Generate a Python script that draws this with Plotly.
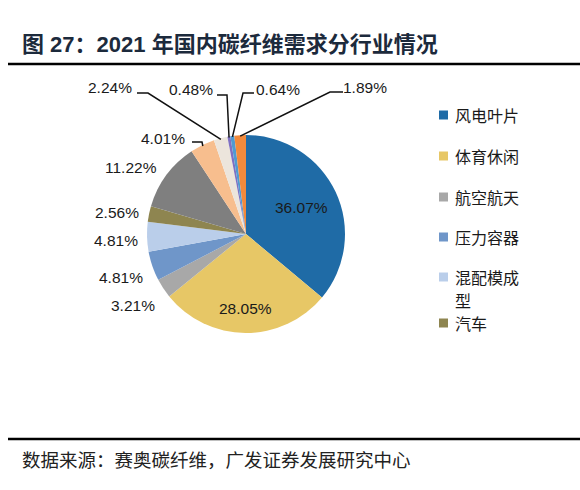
import math
import plotly.graph_objects as go

# ---------------- data ----------------
categories = ["风电叶片", "体育休闲", "航空航天", "压力容器", "混配模成型", "汽车",
              "碳碳复材", "电子电气", "建筑", "船舶", "电缆芯", "其他"]
shares = [36.07, 28.05, 3.21, 4.81, 4.81, 2.56, 11.22, 4.01, 2.24, 0.48, 0.64, 1.89]
legend_labels = [["风电叶片"], ["体育休闲"], ["航空航天"], ["压力容器"], ["混配模成", "型"], ["汽车"]]

# ---------------- style ----------------
colors = ["#1F6BA6", "#E7C766", "#A8A8A8", "#6F96C9", "#BACEEA", "#8E8550",
          "#7F7F7F", "#F7BE8E", "#ECE5DC", "#7E70C2", "#4F9AD2", "#F28A3C"]
W, H = 580, 490
CX, CY, R = 246, 234, 99          # pie centre / radius in pixels
NUM_FONT = "Liberation Sans, Arial, sans-serif"
CJK_FONT = "Noto Sans CJK SC, sans-serif"
LABEL_SIZE = 15.5
LEG_SIZE = 16
LEG_LINE = 23


def px(x):
    return x / W


def py(y):
    return 1 - y / H


# inside labels: radial fraction of the radius along the slice mid-angle
inside_r = {0: 0.62, 1: 0.75}
# label placement (pixels) for slices whose labels are outside
label_pos = {2: (133, 305), 3: (121, 277), 4: (116, 240), 5: (117, 212),
             6: (131, 167), 7: (163, 138), 8: (110, 88), 9: (191, 90),
             10: (278, 90), 11: (365, 87)}
# leader line elbow points (pixels) from label side toward the slice
leaders = {
    7: [(192, 142), (202, 142)],
    8: [(137, 93), (148, 93)],
    9: [(217, 95), (227, 95)],
    10: [(254, 93), (243, 93)],
    11: [(343, 92), (330, 92)],
}

fig = go.Figure(go.Pie(
    labels=categories,
    values=shares,
    sort=False,
    direction="clockwise",
    rotation=0,
    marker=dict(colors=colors, line=dict(width=0)),
    textinfo="none",
    hoverinfo="label+percent",
    showlegend=False,
    domain=dict(x=[px(CX - R), px(CX + R)], y=[py(CY + R), py(CY - R)]),
))

annotations = []
shapes = []

total = sum(shares)
cum = 0.0
for i, v in enumerate(shares):
    mid = (cum + v / 2) / total * 2 * math.pi
    cum += v
    if i in inside_r:
        lx = CX + inside_r[i] * R * math.sin(mid)
        ly = CY - inside_r[i] * R * math.cos(mid)
    else:
        lx, ly = label_pos[i]
    annotations.append(dict(
        x=px(lx), y=py(ly), xref="paper", yref="paper",
        text=f"{v:.2f}%", showarrow=False, xanchor="center", yanchor="middle",
        font=dict(family=NUM_FONT, size=LABEL_SIZE, color="#1a1a1a")))
    if i in leaders:
        ax = CX + (R - 1) * math.sin(mid)
        ay = CY - (R - 1) * math.cos(mid)
        pts = leaders[i] + [(ax, ay)]
        path = "M " + " L ".join(f"{px(x):.5f},{py(y):.5f}" for x, y in pts)
        shapes.append(dict(type="path", xref="paper", yref="paper", path=path,
                           line=dict(color="#111111", width=1.5)))

# legend (first six categories)
leg_y = [115, 156, 197, 237, 277, 323]
for lines, c, y in zip(legend_labels, colors, leg_y):
    shapes.append(dict(type="rect", xref="paper", yref="paper",
                       x0=px(439), x1=px(448), y0=py(y + 4.5), y1=py(y - 4.5),
                       fillcolor=c, line=dict(width=0)))
    for k, ln in enumerate(lines):
        annotations.append(dict(
            x=px(453), y=py(y + k * LEG_LINE), xref="paper", yref="paper", text=ln,
            showarrow=False, xanchor="left", yanchor="middle", align="left",
            font=dict(family=CJK_FONT, size=LEG_SIZE, color="#1a1a1a")))

# title and source
annotations.append(dict(
    x=px(20), y=py(45), xref="paper", yref="paper",
    text="<b>图 27：2021 年国内碳纤维需求分行业情况</b>",
    showarrow=False, xanchor="left", yanchor="middle",
    font=dict(family="Liberation Sans, Noto Sans CJK SC, sans-serif", size=22,
              color="#1C2A3C")))
annotations.append(dict(
    x=px(20), y=py(459), xref="paper", yref="paper",
    text="数据来源：赛奥碳纤维，广发证券发展研究中心",
    showarrow=False, xanchor="left", yanchor="middle",
    font=dict(family=CJK_FONT, size=18.5, color="#222222")))

# horizontal rules
for yy in (64, 439):
    shapes.append(dict(type="line", xref="paper", yref="paper",
                       x0=px(8), x1=1, y0=py(yy), y1=py(yy),
                       line=dict(color="#000000", width=2.5)))

fig.update_layout(
    width=W, height=H,
    margin=dict(l=0, r=0, t=0, b=0),
    paper_bgcolor="white", plot_bgcolor="white",
    annotations=annotations, shapes=shapes,
)

fig.write_html("out.html")
